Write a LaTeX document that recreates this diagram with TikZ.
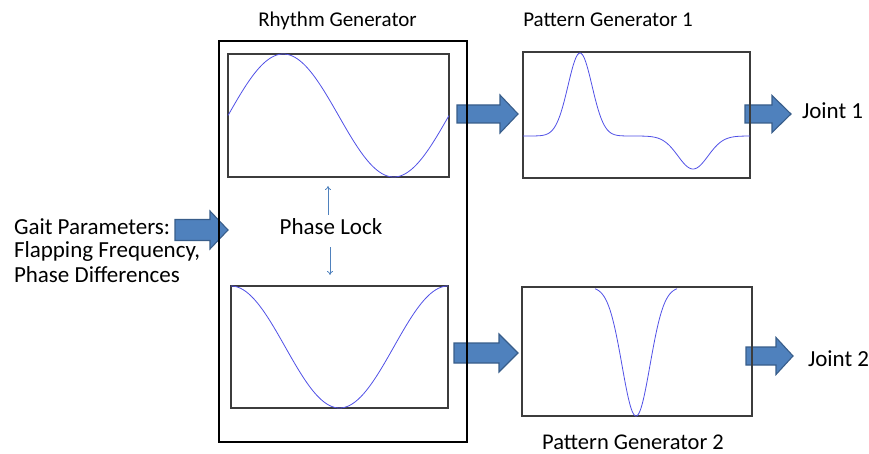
\documentclass[tikz,border=0pt]{standalone}
\usepackage{fontspec}
\setmainfont{Carlito}
\usetikzlibrary{arrows.meta}
\definecolor{curveblue}{RGB}{80,80,230}
\definecolor{arrowfill}{RGB}{79,129,189}
\definecolor{arrowline}{RGB}{56,93,138}
\definecolor{lockblue}{RGB}{79,129,189}
\definecolor{boxgray}{RGB}{60,60,60}
\newcommand\blockarr[7]{% name, tail x, y, body half, base x, head half, tip x
  \draw[blockarrow] (#2,#3-#4) -- (#5,#3-#4) -- (#5,#3-#6) -- (#7,#3) -- (#5,#3+#6) -- (#5,#3+#4) -- (#2,#3+#4) -- cycle;
  \coordinate (#1) at (#7,#3);}
\tikzset{
  blockarrow/.style={fill=arrowfill, draw=arrowline, line width=1.1pt, line join=miter},
  plotbox/.style={draw=boxgray, line width=1.3pt, inner sep=0pt, outer sep=0pt, rectangle},
  outerbox/.style={draw=black, line width=2.6pt, inner sep=0pt, outer sep=0pt, rectangle},
  curve/.style={draw=curveblue, line width=0.8pt, smooth},
  lbl/.style={inner sep=0pt, outer sep=0pt, font=\fontsize{23}{24}\selectfont},
  title/.style={inner sep=0pt, outer sep=0pt, font=\fontsize{21}{24}\selectfont},
  lockarrow/.style={draw=lockblue, line width=0.8pt, -{To[length=4pt,width=6pt]}}
}
\begin{document}
\begin{tikzpicture}[x=1pt,y=-1pt]
\useasboundingbox (0,0) rectangle (869,454);
% block arrows (drawn first, boxes on top)
\blockarr{a1}{175}{230}{10.5}{210}{19}{228}
\blockarr{a2}{457}{114}{9}{500}{19}{518}
\blockarr{a3}{745}{114}{9}{772}{18.5}{791}
\blockarr{a4}{454}{353}{10}{499}{19}{518}
\blockarr{a5}{746}{356}{9}{776}{18.5}{793}
% outer rhythm generator box
\node[outerbox, minimum width=248, minimum height=401] (rg) at (343,241.5) {};
% plot boxes
\node[plotbox, minimum width=221, minimum height=123] (osc1) at (338.5,115.5) {};
\node[plotbox, minimum width=217, minimum height=122] (osc2) at (339.5,347) {};
\node[plotbox, minimum width=227, minimum height=126] (pg1) at (636.5,115) {};
\node[plotbox, minimum width=230, minimum height=129] (pg2) at (637,351.5) {};
% curves
\draw[curve] plot[domain=228:449, samples=160] (\x, {115.5 - 61.5*sin((\x-228)/221*360)});
\draw[curve] plot[domain=231:448, samples=160] (\x, {347 - 61*cos((\x-231)/217*360)});
\draw[curve] plot[domain=523:750, samples=200] (\x, {136 - 83*exp(max(-9,-0.5*((\x-580)/12)^2)) + 33*exp(max(-9,-0.5*((\x-693)/15)^2))});
\draw[curve] plot[domain=595:677, samples=160] (\x, {287 + 129*exp(max(-9,-0.5*((\x-636)/14)^2))});
% labels
\node[title, anchor=base] (t1) at (337.5,27) {Rhythm Generator};
\node[title, anchor=base] (t2) at (608,27) {Pattern Generator 1};
\node[title, anchor=base, font=\fontsize{22.5}{24}\selectfont] (t3) at (633,449) {Pattern Generator 2};
\node[lbl, anchor=base west] (g1) at (14,234) {Gait Parameters:};
\node[lbl, anchor=base west] (g2) at (14,258) {Flapping Frequency,};
\node[lbl, anchor=base west] (g3) at (14,282) {Phase Differences};
\node[lbl, anchor=base] (pl) at (331,235) {Phase Lock};
\node[lbl, anchor=base west] (j1) at (802,119) {Joint 1};
\node[lbl, anchor=base west] (j2) at (808,366) {Joint 2};
% phase lock arrows
\coordinate (upstart) at (328,215);
\coordinate (uptip) at (328,186);
\coordinate (dnstart) at (330,247);
\coordinate (dntip) at (330,275);
\draw[lockarrow] (upstart) -- (uptip);
\draw[lockarrow] (dnstart) -- (dntip);
\end{tikzpicture}
\end{document}
